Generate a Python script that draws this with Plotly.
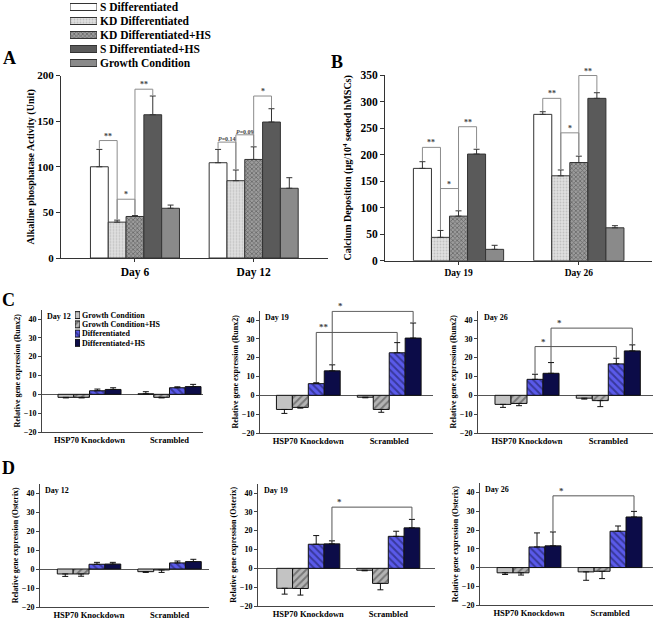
import plotly.graph_objects as go

SERIF = 'Liberation Serif, Times New Roman, serif'
W, H = 660, 624

# ---------------- Panel A / B data ----------------
ab_names = ['S Differentiated', 'KD Differentiated', 'KD Differentiated+HS',
            'S Differentiated+HS', 'Growth Condition']
alp_days = ['Day 6', 'Day 12']
cal_days = ['Day 19', 'Day 26']

# one row per series, one column per day
alp_mean = [[100, 104.4], [39.3, 84.7], [45.5, 108], [157, 149], [54.5, 76.4]]
alp_err = [[19, 14.6], [2.2, 11.7], [1, 13.8], [20.5, 14.6], [3.5, 11.6]]
cal_mean = [[174, 275.8], [44, 160], [84, 185], [201, 306], [21.4, 62]]
cal_err = [[12.6, 5], [13, 11], [10, 12], [9, 10.6], [7.6, 4]]

# significance brackets: (group a, bar a, group b, bar b, height, label)
alp_sig = [(0, 0, 0, 1, 128.7, '**'), (0, 1, 0, 2, 64.4, '*'), (0, 2, 0, 3, 185, '**'),
           (1, 0, 1, 1, 127, '<i>P</i>=0.14'), (1, 1, 1, 2, 135, '<i>P</i>=0.09'),
           (1, 2, 1, 3, 177.5, '*')]
cal_sig = [(0, 0, 0, 1, 213.6, '**'), (0, 1, 0, 2, 136, '*'), (0, 2, 0, 3, 252.5, '**'),
           (1, 0, 1, 1, 306, '**'), (1, 1, 1, 2, 241, '*'), (1, 2, 1, 3, 349, '**')]

# ---------------- Panel C / D data ----------------
cd_names = ['Growth Condition', 'Growth Condition+HS', 'Differentiated', 'Differentiated+HS']
cd_groups = ['HSP70 Knockdown', 'Scrambled']

runx_d12_mean = [[-1.6, 0.3], [-1.6, -1.6], [1.9, 3.5], [2.6, 4.1]]
runx_d12_err = [[0.3, 1.1], [0.3, 0.3], [0.9, 0.5], [0.9, 1.2]]
runx_d19_mean = [[-7.5, -1], [-6.4, -7.5], [6.2, 22.6], [13, 30.4]]
runx_d19_err = [[2.1, 0.3], [0.4, 1.5], [0.5, 5.4], [3.2, 8]]
runx_d26_mean = [[-4.8, -1.5], [-4.3, -2.8], [8.5, 16.7], [11.7, 23.6]]
runx_d26_err = [[1.6, 0.5], [1.2, 3.2], [2.7, 3], [5.7, 3.2]]

osx_d12_mean = [[-2.6, -1.4], [-2.6, -0.5], [2.5, 3.2], [2.6, 3.9]]
osx_d12_err = [[1.3, 0.4], [1.2, 1.3], [1, 1], [0.9, 1.2]]
osx_d19_mean = [[-10.6, -1], [-10.7, -8], [12.8, 17], [13, 21.5]]
osx_d19_err = [[3.1, 0.3], [3.5, 3.4], [4.6, 2.7], [1.6, 4.5]]
osx_d26_mean = [[-2.8, -2.3], [-2.8, -2], [11, 19.4], [11.6, 27]]
osx_d26_err = [[0.9, 4.5], [1.2, 3.9], [7.5, 2.8], [7.4, 3]]

runx_d19_sig = [(0, 2, 1, 2, 33.4, '**'), (0, 3, 1, 3, 44.6, '*')]
runx_d26_sig = [(0, 2, 1, 2, 25.9, '*'), (0, 3, 1, 3, 35.7, '*')]
osx_d19_sig = [(0, 3, 1, 3, 32.5, '*')]
osx_d26_sig = [(0, 3, 1, 3, 38.3, '*')]

# ---------------- styles ----------------
ab_styles = [
    ('white', None),
    ('#e0e0e0', dict(shape='.', fgcolor='#a0a0a0', size=3, solidity=0.3)),
    ('#9c9c9c', dict(shape='x', fgcolor='#333333', size=3, solidity=0.45)),
    ('#5a5a5a', None),
    ('#8a8a8a', None),
]
cd_styles = [
    ('#c3c3c3', None),
    ('#b4b4b4', dict(shape='/', fgcolor='#3a3a3a', size=5, solidity=0.4)),
    ('#5a5aea', dict(shape='\\', fgcolor='#16164c', size=5, solidity=0.4)),
    ('#0c0c48', None),
]

fig = go.Figure()


def fnt(size, color='black'):
    return dict(family=SERIF, size=size, color=color, weight='bold')


def ax_id(n):
    return '' if n == 1 else str(n)


def add_bars(n, means, errs, styles, width, line_color):
    k = len(means)
    for i in range(k):
        plus = [e if m >= 0 else 0 for m, e in zip(means[i], errs[i])]
        minus = [e if m < 0 else 0 for m, e in zip(means[i], errs[i])]
        fig.add_trace(go.Bar(
            x=[0, 1], y=means[i], width=width, offset=(i - k / 2) * width,
            marker=dict(color=styles[i][0], pattern=styles[i][1],
                        line=dict(color=line_color, width=1)),
            error_y=dict(type='data', symmetric=False, array=plus, arrayminus=minus,
                         color=line_color, thickness=1, width=3),
            xaxis='x' + ax_id(n), yaxis='y' + ax_id(n),
            showlegend=False, hoverinfo='skip'))


def add_brackets(n, sig, means, errs, width, color, size, gap, label_shift=None):
    # label_shift: None -> label centred on the bracket, number -> label just right of the left leg
    k = len(means)
    xs, ys = [], []
    for ga, a, gb, b, level, label in sig:
        xa = ga + (a - k / 2 + 0.5) * width
        xb = gb + (b - k / 2 + 0.5) * width
        ya = means[a][ga] + errs[a][ga] + gap
        yb = means[b][gb] + errs[b][gb] + gap
        xs += [xa, xa, xb, xb, None]
        ys += [ya, level, level, yb, None]
        fs = size - 2 if 'P' in label else size
        lx = (xa + xb) / 2 if label_shift is None else xa + label_shift
        fig.add_annotation(x=lx, y=level, xref='x' + ax_id(n), yref='y' + ax_id(n),
                           text=label, showarrow=False, yanchor='bottom', yshift=-2,
                           font=fnt(fs, '#444'))
    fig.add_trace(go.Scatter(x=xs, y=ys, mode='lines', line=dict(color=color, width=1),
                             xaxis='x' + ax_id(n), yaxis='y' + ax_id(n),
                             showlegend=False, hoverinfo='skip'))


def dom_x(a, b):
    return [a / W, b / W]


def dom_y(top, bottom):
    return [1 - bottom / H, 1 - top / H]


layout = {}

# ---------------- Panel A and B ----------------
ab_panels = [
    (1, alp_mean, alp_err, alp_sig, alp_days, 'Alkaline phosphatase Activity (Unit)',
     dom_x(61, 328), dom_y(75.5, 258), [-0.623, 1.626], 200, 11, 11.5, 0),
    (2, cal_mean, cal_err, cal_sig, cal_days, 'Calcium Deposition (µg/10<sup>4</sup> seeded hMSCs)',
     dom_x(385, 652), dom_y(75, 260.7), [-0.611, 1.608], 350, 11.5, 9.5, 6),
]
for n, means, errs, sig, days, title, dx, dy, xr, ymax, yfs, xfs, so in ab_panels:
    add_bars(n, means, errs, ab_styles, 0.15, '#333333')
    add_brackets(n, sig, means, errs, 0.15, '#8c8c8c', 8, ymax * 0.004)
    layout['xaxis' + ax_id(n)] = dict(
        domain=dx, range=xr, tickvals=[0, 1], ticktext=days, anchor='y' + ax_id(n),
        showline=True, linecolor='#333', ticks='outside', ticklen=3, tickcolor='#333',
        showgrid=False, zeroline=False, tickfont=fnt(xfs), automargin=False)
    layout['yaxis' + ax_id(n)] = dict(
        domain=dy, range=[0, ymax], dtick=50, anchor='x' + ax_id(n),
        showline=True, linecolor='#333', ticks='outside', ticklen=4, tickcolor='#333',
        showgrid=False, zeroline=False, tickfont=fnt(yfs), automargin=False,
        title=dict(text=title, font=fnt(10), standoff=so))

# ---------------- Panel C and D ----------------
cd_panels = [
    (3, runx_d12_mean, runx_d12_err, [], 'Day 12', 'Runx2', dom_x(42, 203), dom_y(309.6, 432), [-0.594, 1.419]),
    (4, runx_d19_mean, runx_d19_err, runx_d19_sig, 'Day 19', 'Runx2', dom_x(260, 433), dom_y(310.6, 433), [-0.597, 1.541]),
    (5, runx_d26_mean, runx_d26_err, runx_d26_sig, 'Day 26', 'Runx2', dom_x(478, 653), dom_y(310.6, 433), [-0.603, 1.55]),
    (6, osx_d12_mean, osx_d12_err, [], 'Day 12', 'Osterix', dom_x(40, 209), dom_y(483.5, 607), [-0.609, 1.49]),
    (7, osx_d19_mean, osx_d19_err, osx_d19_sig, 'Day 19', 'Osterix', dom_x(258, 435), dom_y(483.6, 606), [-0.629, 1.584]),
    (8, osx_d26_mean, osx_d26_err, osx_d26_sig, 'Day 26', 'Osterix', dom_x(480, 653), dom_y(483.3, 605), [-0.605, 1.53]),
]
for n, means, errs, sig, day, gene, dx, dy, xr in cd_panels:
    add_bars(n, means, errs, cd_styles, 0.197, '#111111')
    add_brackets(n, sig, means, errs, 0.197, '#555555', 9, 0.3, label_shift=0.1)
    layout['xaxis' + ax_id(n)] = dict(
        domain=dx, range=xr, tickvals=[0, 1], ticktext=cd_groups, anchor='y' + ax_id(n),
        showline=True, linecolor='#444', ticks='', showgrid=False, zeroline=False,
        tickfont=fnt(8.5), automargin=False)
    layout['yaxis' + ax_id(n)] = dict(
        domain=dy, range=[-20, 45], tickvals=[-20, -10, 0, 10, 20, 30, 40], anchor='x' + ax_id(n),
        showline=True, linecolor='#444', ticks='outside', ticklen=3, tickcolor='#444',
        showgrid=False, zeroline=True, zerolinecolor='#555', zerolinewidth=1,
        tickfont=fnt(8), automargin=False,
        title=dict(text='Relative gene expression (' + gene + ')', font=fnt(8), standoff=2))
    fig.add_annotation(x=0.02, y=41.5, xref='x' + ax_id(n) + ' domain', yref='y' + ax_id(n),
                       text=day, showarrow=False, xanchor='left', font=fnt(8))

# ---------------- legends (drawn as small horizontal bars) ----------------
legend_sets = [
    (9, ab_names, ab_styles, dom_x(70, 97), dom_y(0, 70), 0.5, 11.5, '#333333', 2),
    (10, cd_names, cd_styles, dom_x(75, 80), dom_y(310.5, 347.5), 0.75, 8, '#111111', 1),
]
for n, names, styles, dx, dy, bw, fs, lc, so in legend_sets:
    for name, (color, pattern) in zip(names, styles):
        fig.add_trace(go.Bar(
            x=[1], y=[name], orientation='h', width=bw,
            marker=dict(color=color, pattern=pattern, line=dict(color=lc, width=1)),
            xaxis='x' + str(n), yaxis='y' + str(n), showlegend=False, hoverinfo='skip'))
    layout['xaxis' + str(n)] = dict(domain=dx, range=[0, 1], visible=False,
                                    anchor='y' + str(n), automargin=False)
    layout['yaxis' + str(n)] = dict(
        domain=dy, type='category', categoryorder='array', categoryarray=names,
        tickmode='array', tickvals=names, ticktext=names,
        autorange='reversed', side='right', anchor='x' + str(n), showline=False,
        ticks='', showgrid=False, zeroline=False, tickfont=fnt(fs),
        ticklabelstandoff=so, automargin=False)

# ---------------- panel letters ----------------
for letter, px, py in [('A', 9, 57.5), ('B', 337, 62), ('C', 8, 300), ('D', 8, 468)]:
    fig.add_annotation(x=px / W, y=1 - py / H, xref='paper', yref='paper', text=letter,
                       showarrow=False, xanchor='center', yanchor='middle', font=fnt(18))

fig.update_layout(
    width=W, height=H, margin=dict(l=0, r=0, t=0, b=0, autoexpand=False),
    paper_bgcolor='white', plot_bgcolor='white',
    barmode='overlay', showlegend=False, **layout)

# the page body has a default margin; drop it so the figure fills the window
fig.write_html('out.html', config={'displayModeBar': False},
               post_script="document.body.style.margin = '0px';")
